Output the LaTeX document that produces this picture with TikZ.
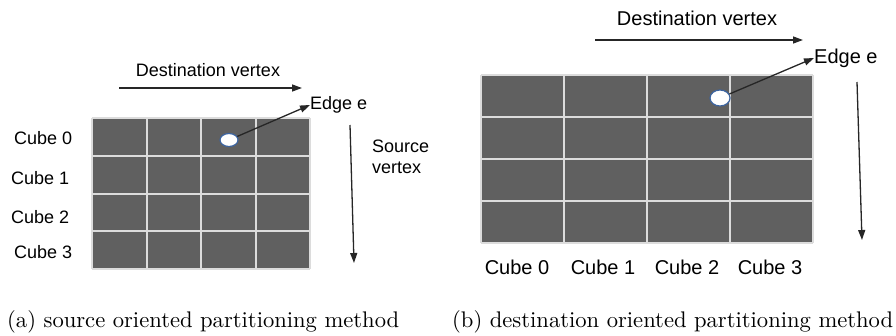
\documentclass[tikz,border=0pt]{standalone}
\usepackage{fontspec}
\newfontfamily\labfont{Liberation Sans}
\newfontfamily\capfont{lmroman10-regular}[Extension=.otf]
\usetikzlibrary{arrows.meta,shapes.geometric}
\definecolor{cellgray}{HTML}{606060}
\definecolor{linegray}{HTML}{DCDCDC}
\definecolor{edgeblue}{HTML}{3C64A0}
\begin{document}
\begin{tikzpicture}[x=1pt,y=-1pt,
 lab/.style={font=\labfont\fontsize{18}{21}\selectfont, inner sep=0pt},
 labb/.style={font=\labfont\fontsize{20}{22}\selectfont, inner sep=0pt},
 captext/.style={font=\capfont\fontsize{22.6}{26}\selectfont, inner sep=0pt, anchor=base west},
 arr/.style={-{Triangle[length=10pt,width=7pt]}, line width=1.3pt, draw=black!85},
 edgedot/.style={ellipse, draw=edgeblue, fill=white, line width=1.2pt, inner sep=0pt},
 cellfill/.style={fill=cellgray},
 gridl/.style={draw=linegray, line width=2pt}]
\useasboundingbox (0,0) rectangle (896,335);
% ---------- left grid (a)
\fill[cellfill] (92,118) rectangle (310,269);
\foreach \x in {92,146.5,201,255.5,310} \draw[gridl] (\x,118) -- (\x,269);
\foreach \y in {118,155.75,193.5,231.25,269} \draw[gridl] (92,\y) -- (310,\y);
\node[edgedot, minimum width=18pt, minimum height=13pt] (dotA) at (229,140) {};
\node[lab, anchor=west] (edgeA) at (310,105) {Edge e};
\draw[arr] (dotA) -- (edgeA.west);
\node[lab] (dstA) at (208,70) {Destination vertex};
\coordinate (dA1) at (119,88);
\coordinate (dA2) at (302,88);
\draw[arr] (dA1) -- (dA2);
\node[lab, anchor=west, align=left] (srcA) at (372,156.5) {Source\\vertex};
\coordinate (sA1) at (350,125);
\coordinate (sA2) at (354,263);
\draw[arr] (sA1) -- (sA2);
\node[lab, anchor=west] (cA0) at (14,138) {Cube 0};
\node[lab, anchor=west] (cA1) at (11,178) {Cube 1};
\node[lab, anchor=west] (cA2) at (11,217) {Cube 2};
\node[lab, anchor=west] (cA3) at (14,252) {Cube 3};
% ---------- right grid (b)
\fill[cellfill] (481,75) rectangle (813,243);
\foreach \x in {481,564,647,730,813} \draw[gridl] (\x,75) -- (\x,243);
\foreach \y in {75,117,159,201,243} \draw[gridl] (481,\y) -- (813,\y);
\node[edgedot, minimum width=20pt, minimum height=16pt] (dotB) at (720,98) {};
\node[labb, anchor=west] (edgeB) at (814,58) {Edge e};
\draw[arr] (dotB) -- (edgeB.west);
\node[labb] (dstB) at (697,18) {Destination vertex};
\coordinate (dB1) at (595,40);
\coordinate (dB2) at (803,40);
\draw[arr] (dB1) -- (dB2);
\coordinate (sB1) at (857,82);
\coordinate (sB2) at (862,240);
\draw[arr] (sB1) -- (sB2);
\node[labb] (cB0) at (517,267) {Cube 0};
\node[labb] (cB1) at (603,267) {Cube 1};
\node[labb] (cB2) at (687,267) {Cube 2};
\node[labb] (cB3) at (770,267) {Cube 3};
% ---------- captions
\node[captext] (capA) at (7,327) {(a) source oriented partitioning method};
\node[captext] (capB) at (452,327) {(b) destination oriented partitioning method};
\end{tikzpicture}
\end{document}
